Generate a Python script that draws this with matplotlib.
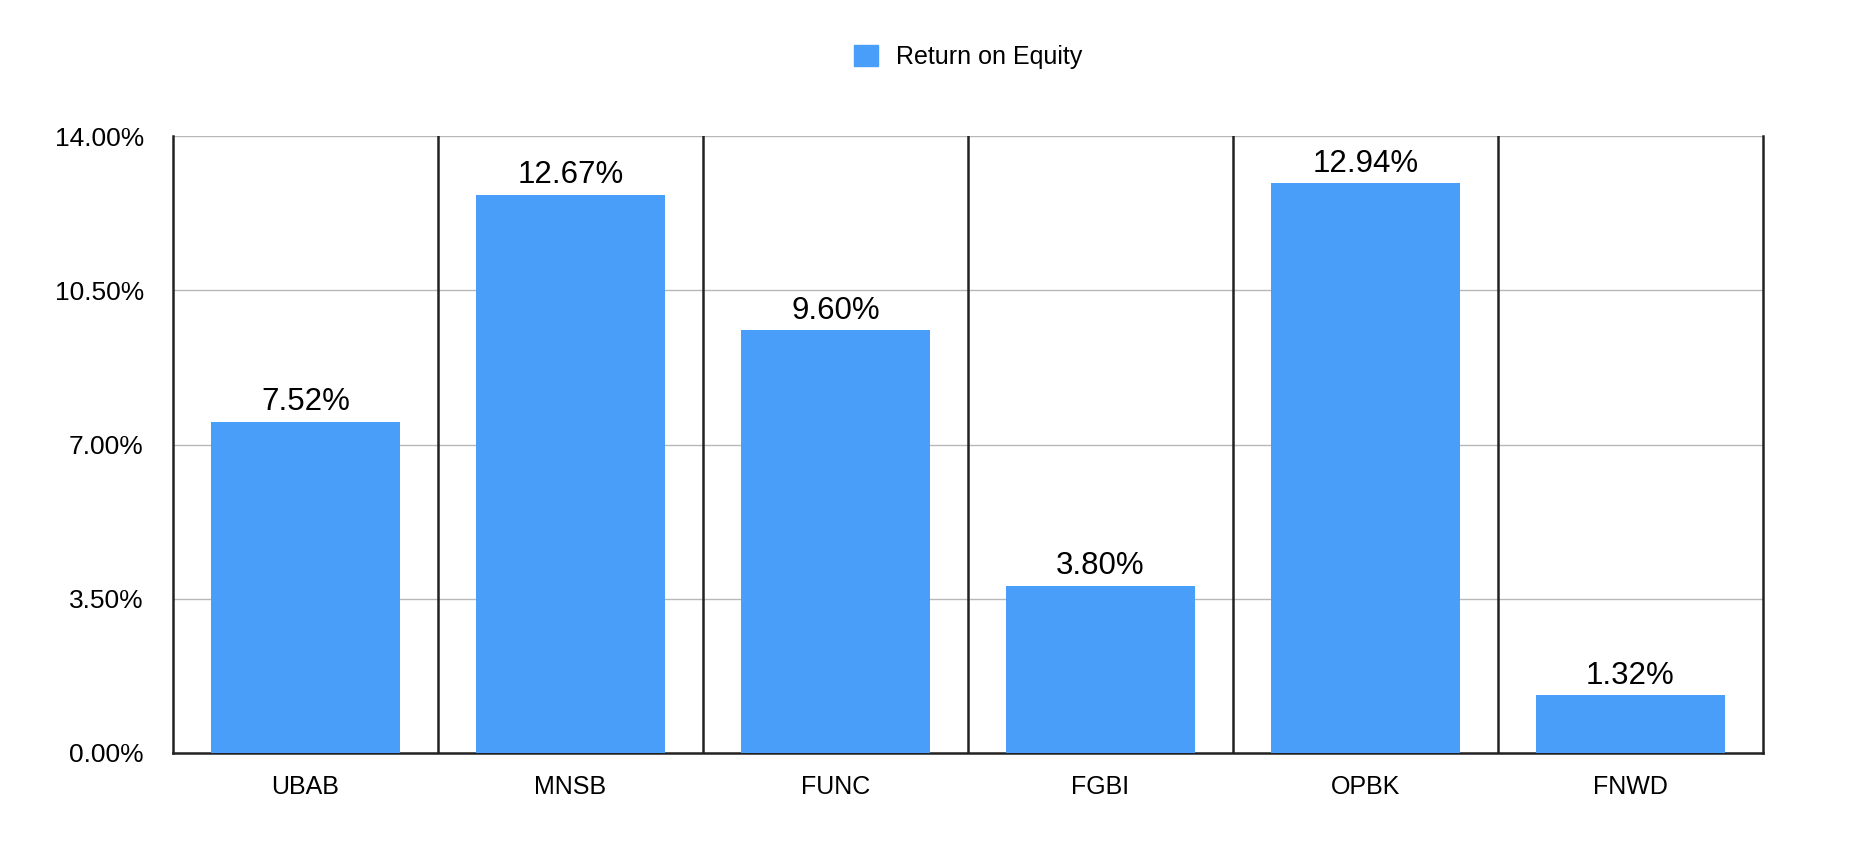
import numpy as np
import matplotlib.pyplot as plt
from matplotlib.patches import Patch

plt.rcParams['font.family'] = ['Liberation Sans', 'DejaVu Sans']

tickers = ['UBAB', 'MNSB', 'FUNC', 'FGBI', 'OPBK', 'FNWD']
roe = [7.52, 12.67, 9.60, 3.80, 12.94, 1.32]
yticks = [0, 3.5, 7, 10.5, 14]

blue = '#489ef8'

fig = plt.figure(figsize=(18.68, 8.48), dpi=100)
ax = fig.add_axes([173/1868, 95/848, 1590/1868, 617/848])

x = np.arange(len(tickers))
bars = ax.bar(x, roe, width=0.713, color=blue, linewidth=0, zorder=3)
for b, v in zip(bars, roe):
    ax.annotate(f'{v:.2f}%', (b.get_x() + b.get_width()/2, v),
                xytext=(0, 3), textcoords='offset points',
                ha='center', va='bottom', fontsize=22.5, zorder=4)

ax.set_xlim(-0.5, len(tickers) - 0.5)
ax.set_ylim(0, 14)
ax.set_yticks(yticks)
ax.set_yticklabels([f'{t:.2f}%' for t in yticks], fontsize=19)
ax.set_xticks(x)
ax.set_xticklabels(tickers, fontsize=18)
ax.tick_params(axis='both', length=0)
ax.tick_params(axis='y', pad=21)
ax.tick_params(axis='x', pad=16)

ax.yaxis.grid(True, color='#b8b8b8', linewidth=1.0, zorder=1)
# dark separators between categories
for s in np.arange(0.5, len(tickers) - 1, 1.0):
    ax.axvline(s, color='#222222', linewidth=1.8, zorder=2)

for side in ['left', 'bottom', 'right']:
    ax.spines[side].set_color('#222222')
    ax.spines[side].set_linewidth(1.8)
ax.spines['top'].set_visible(False)

fig.legend(handles=[Patch(color=blue, label='Return on Equity')],
           loc='center', bbox_to_anchor=(968/1868, 1 - 57/848),
           frameon=False, fontsize=18, handlelength=0.95, handleheight=0.95,
           handletextpad=0.7)

fig.savefig('out.png', dpi=100)
